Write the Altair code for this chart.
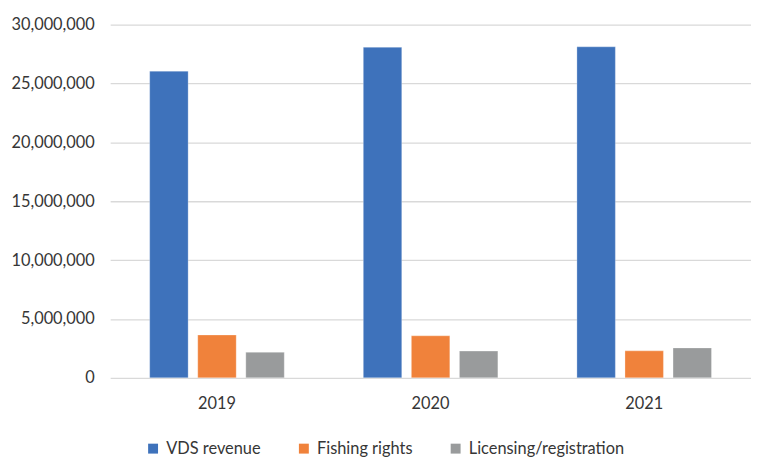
import altair as alt
import pandas as pd

years = ["2019", "2020", "2021"]
series = ["VDS revenue", "Fishing rights", "Licensing/registration"]
vds_revenue = [26050000, 28080000, 28120000]
fishing_rights = [3640000, 3570000, 2290000]
licensing = [2170000, 2270000, 2540000]
colors = ["#3E72BB", "#F0823B", "#999B9C"]

rows = []
for name, vals in zip(series, [vds_revenue, fishing_rights, licensing]):
    for y, v in zip(years, vals):
        rows.append({"year": y, "series": name, "value": v})
df = pd.DataFrame(rows)

FONT = "Lato"
TXT = "#363636"

chart = alt.Chart(df).mark_bar(stroke="#ffffff", strokeOpacity=0.35, strokeWidth=0.8).encode(
    x=alt.X("year:N", sort=years, title=None,
            scale=alt.Scale(paddingInner=0.37, paddingOuter=0.185),
            axis=alt.Axis(labelAngle=0, ticks=False, domain=False, labelFontSize=16.5,
                          labelColor=TXT, labelPadding=18, labelFont=FONT)),
    xOffset=alt.XOffset("series:N", sort=series,
                        scale=alt.Scale(paddingInner=0.2, paddingOuter=0)),
    y=alt.Y("value:Q", title=None,
            scale=alt.Scale(domain=[0, 30000000], nice=False),
            axis=alt.Axis(values=[0, 5000000, 10000000, 15000000, 20000000, 25000000, 30000000],
                          format=",d", ticks=False, domain=False, gridColor="#d9d9d9",
                          gridWidth=1.3, labelFontSize=16.5, labelColor=TXT,
                          labelPadding=16, labelFont=FONT)),
    color=alt.Color("series:N", sort=series,
                    scale=alt.Scale(domain=series, range=colors),
                    legend=alt.Legend(title=None, orient="none", direction="horizontal",
                                      legendX=35, legendY=419, symbolType="square",
                                      symbolSize=100, symbolStrokeWidth=0,
                                      labelFontSize=16.5, labelColor=TXT,
                                      labelFont=FONT, labelOffset=5, columnPadding=35,
                                      padding=0)),
).properties(
    width=646, height=356, autosize="none",
    padding={"left": 103, "top": 15, "right": 0, "bottom": 79},
).configure_view(stroke=None)

chart.save("out.html", embed_options={"renderer": "svg", "actions": False})
